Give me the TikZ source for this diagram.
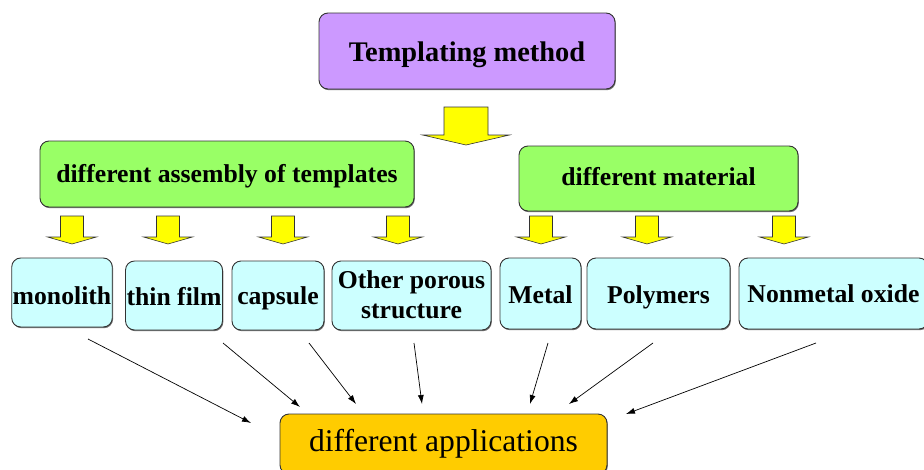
\documentclass[tikz,border=0pt]{standalone}
\usepackage{fontspec}
\setmainfont{Liberation Serif}
\usetikzlibrary{arrows.meta,shadows}
\definecolor{violetbox}{HTML}{CC99FF}
\definecolor{greenbox}{HTML}{99FF66}
\definecolor{cyanbox}{HTML}{CCFFFF}
\definecolor{orangebox}{HTML}{FFCC00}
\definecolor{arrowyellow}{HTML}{FFFF00}
\definecolor{edge}{HTML}{333333}
\tikzset{
  box/.style={draw=edge, line width=0.9pt, rounded corners=9pt, inner sep=1pt, align=center, text depth=0pt,
    drop shadow={shadow xshift=0.8pt, shadow yshift=-1.2pt, fill=black!55, opacity=1}},
  topbox/.style={box, fill=violetbox, font=\fontsize{28.4}{32}\selectfont\bfseries},
  midbox/.style={box, fill=greenbox, font=\fontsize{25.7}{30}\selectfont\bfseries},
  leafbox/.style={box, fill=cyanbox, font=\fontsize{25.7}{30}\selectfont\bfseries},
  appbox/.style={box, fill=orangebox, font=\fontsize{31.6}{36}\selectfont},
  conn/.style={line width=0.7pt, -{Latex[length=9pt,width=6pt]}},
  bigdown/.pic={\draw[fill=arrowyellow, draw=edge, line width=0.6pt] (-22,0) -- (22,0) -- (22,28) -- (43.5,28) -- (0,38) -- (-43.5,28) -- (-22,28) -- cycle;},
  smalldown/.pic={\draw[fill=arrowyellow, draw=edge, line width=0.6pt] (-11.5,0) -- (11.5,0) -- (11.5,21) -- (24.5,21) -- (0,28) -- (-24.5,21) -- (-11.5,21) -- cycle;}
}
\begin{document}
\begin{tikzpicture}[x=1pt, y=-1pt]
\useasboundingbox (0,0) rectangle (924,469);
\clip (0,0) rectangle (924,469);

\node[topbox, minimum width=296pt, minimum height=76pt, text height=21.4pt] (tm) at (467,51) {Templating method};
\node[midbox, minimum width=374pt, minimum height=66pt, text height=17.4pt] (g1) at (227,174) {different assembly of templates};
\node[midbox, minimum width=279pt, minimum height=65pt, text height=14pt] (g2) at (658.5,178.5) {different material};

\node[leafbox, minimum width=100pt, minimum height=69pt, text height=23.6pt] (c1) at (62,292.5) {monolith};
\node[leafbox, minimum width=96pt, minimum height=69pt, text height=19pt] (c2) at (174,295.5) {thin film};
\node[leafbox, minimum width=92pt, minimum height=69pt, text height=17.6pt] (c3) at (278,295.5) {capsule};
\node[leafbox, minimum width=159pt, minimum height=69pt] (c4) at (411.5,295.5)
  {\raisebox{0pt}[45.6pt][0pt]{\begin{tabular}[b]{@{}c@{}}Other porous\\structure\end{tabular}}};
\node[leafbox, minimum width=81pt, minimum height=71pt, text height=19.6pt] (c5) at (540.5,293.5) {Metal};
\node[leafbox, minimum width=143pt, minimum height=71pt, text height=19.6pt] (c6) at (658.5,293.5) {Polymers};
\node[leafbox, minimum width=189pt, minimum height=71pt, text height=17.6pt] (c7) at (833.5,293.5) {Nonmetal oxide};

\node[appbox, minimum width=327pt, minimum height=60pt, text height=15.4pt] (app) at (443.5,444) {different applications};

\pic at (466,107) {bigdown};
\foreach \xx in {72,168,283,398,541,647,784} {
  \pic at (\xx,216) {smalldown};
}

\coordinate (s1) at (88,339);   \coordinate (e1) at (251,423);
\coordinate (s2) at (223,343);  \coordinate (e2) at (300,407);
\coordinate (s3) at (309,343);  \coordinate (e3) at (356,404);
\coordinate (s4) at (414,343);  \coordinate (e4) at (422,404);
\coordinate (s5) at (548,343);  \coordinate (e5) at (530,404);
\coordinate (s6) at (653,343);  \coordinate (e6) at (569,404);
\coordinate (s7) at (816,343);  \coordinate (e7) at (626,414);
\foreach \i in {1,...,7} {
  \draw[conn] (s\i) -- (e\i);
}
\end{tikzpicture}
\end{document}
